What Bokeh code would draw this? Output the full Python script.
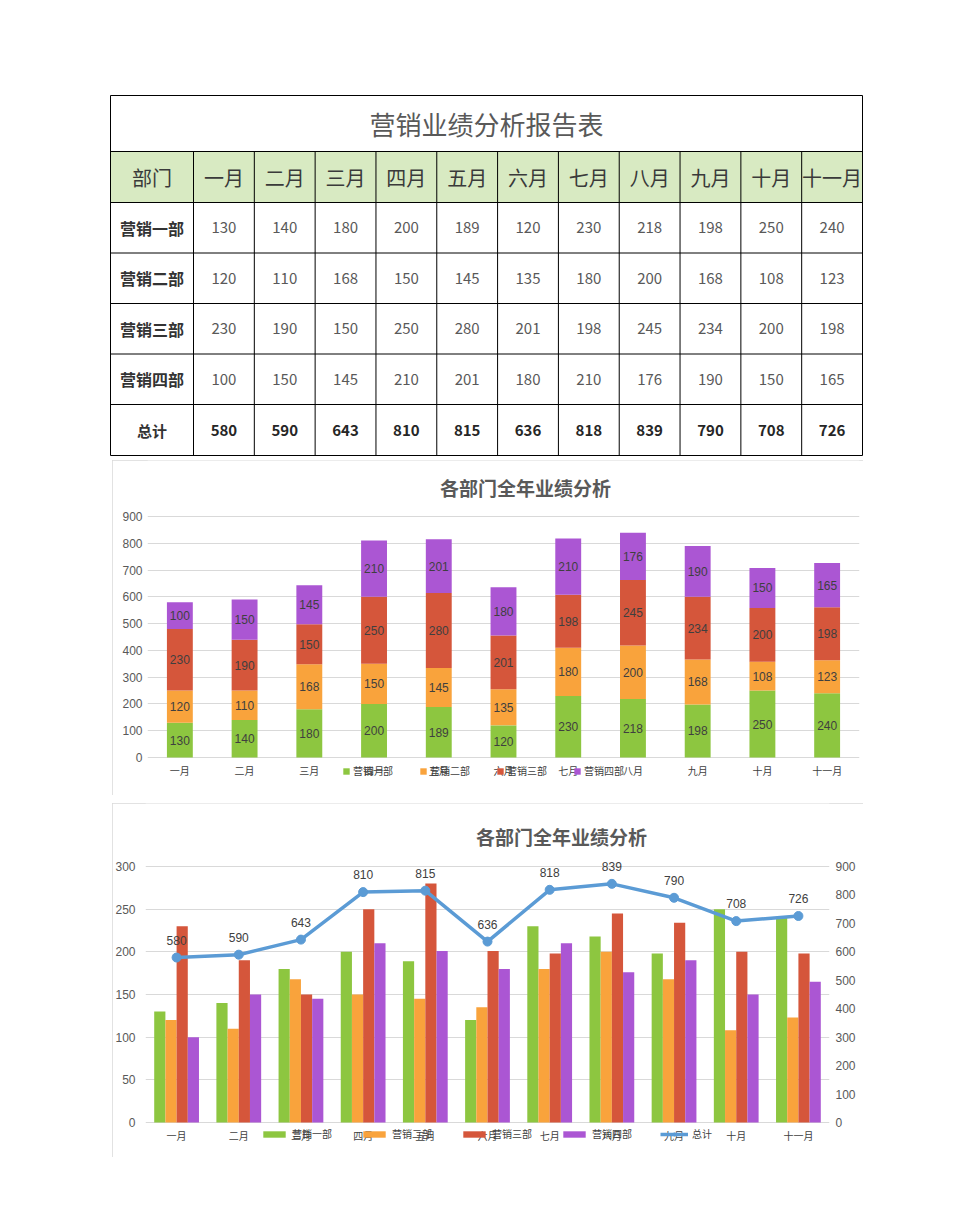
import numpy as np
from bokeh.plotting import figure
from bokeh.models import (ColumnDataSource, FactorRange, Range1d, LinearAxis,
                          Legend, LegendItem, FixedTicker, Label)
from bokeh.core.properties import value
from bokeh.embed import file_html
from bokeh.resources import INLINE
from bokeh.transform import dodge

# ---------------- data ----------------
table_title = "营销业绩分析报告表"
chart_title = "各部门全年业绩分析"
dept_header = "部门"
total_name = "总计"
months = ["一月", "二月", "三月", "四月", "五月", "六月", "七月", "八月", "九月", "十月", "十一月"]
depts = ["营销一部", "营销二部", "营销三部", "营销四部"]
sales_1 = [130, 140, 180, 200, 189, 120, 230, 218, 198, 250, 240]
sales_2 = [120, 110, 168, 150, 145, 135, 180, 200, 168, 108, 123]
sales_3 = [230, 190, 150, 250, 280, 201, 198, 245, 234, 200, 198]
sales_4 = [100, 150, 145, 210, 201, 180, 210, 176, 190, 150, 165]
totals = [580, 590, 643, 810, 815, 636, 818, 839, 790, 708, 726]
stack_ticks = [0, 100, 200, 300, 400, 500, 600, 700, 800, 900]
left_ticks = [0, 50, 100, 150, 200, 250, 300]
right_ticks = [0, 100, 200, 300, 400, 500, 600, 700, 800, 900]
stack_max = 900
left_max = 300
right_max = 900

series = [sales_1, sales_2, sales_3, sales_4]
colors = ["#8DC640", "#F9A33C", "#D5563B", "#AB56D3"]
line_color = "#5B9BD5"
CJK = "Noto Sans CJK SC"
LAT = "Liberation Sans"
GRID = "#D9D9D9"

# ---------------- table ----------------
TW = 752.0
col_w = [83.0] + [(TW - 83.0) / 11] * 11
col_x = np.concatenate([[0.0], np.cumsum(col_w)])
row_h = [56.0, 51.0, 50.5, 50.5, 50.5, 50.5, 51.0]
row_y = np.concatenate([[0.0], np.cumsum(row_h)])
TH = float(row_y[-1])
cx = (col_x[:-1] + col_x[1:]) / 2
cy = (row_y[:-1] + row_y[1:]) / 2

tbl = figure(frame_width=756, frame_height=364,
             x_range=Range1d(-2, TW + 2), y_range=Range1d(TH + 2, -2),
             min_border_left=0, min_border_right=0, min_border_top=0, min_border_bottom=0,
             x_axis_type=None, y_axis_type=None, toolbar_location=None,
             output_backend="svg", outline_line_color=None, margin=(93, 0, 0, 108))
tbl.grid.visible = False
tbl.quad(left=[0], right=[TW], top=[row_y[1]], bottom=[row_y[2]], fill_color="#D8EAC2", line_color=None)

hx0 = [0.0] * len(row_y)
hx1 = [TW] * len(row_y)
tbl.segment(x0=hx0, y0=list(row_y), x1=hx1, y1=list(row_y), line_color="black", line_width=1)
vx = list(col_x)
vy0 = [0.0] + [row_y[1]] * (len(col_x) - 2) + [0.0]
tbl.segment(x0=vx, y0=vy0, x1=vx, y1=[TH] * len(vx), line_color="black", line_width=1)

tbl.text(x=[TW / 2], y=[cy[0]], text=[table_title], text_align="center", text_baseline="middle",
         text_font=value(CJK), text_font_size="26px", text_color="#595959")
tbl.text(x=list(cx), y=[cy[1]] * len(cx), text=[dept_header] + months, text_align="center",
         text_baseline="middle", text_font=value(CJK), text_font_size="20px", text_color="#3A3A3A")
tbl.text(x=[cx[0]] * 4, y=list(cy[2:6]), text=depts, text_align="center", text_baseline="middle",
         text_font=value(CJK), text_font_size="16px", text_font_style="bold", text_color="#333333")
tbl.text(x=[cx[0]], y=[cy[6]], text=[total_name], text_align="center", text_baseline="middle",
         text_font=value(CJK), text_font_size="15px", text_font_style="bold", text_color="#333333")
for i, s in enumerate(series):
    tbl.text(x=list(cx[1:]), y=[cy[2 + i]] * len(s), text=[str(v) for v in s], text_align="center",
             text_baseline="middle", text_font=value(CJK), text_font_size="15px", text_color="#595959")
tbl.text(x=list(cx[1:]), y=[cy[6]] * len(totals), text=[str(v) for v in totals], text_align="center",
         text_baseline="middle", text_font=value(CJK), text_font_size="15px", text_font_style="bold",
         text_color="#262626")


def style_common(p, title_x, title_y):
    p.add_layout(Label(x=title_x, y=title_y, x_units="screen", y_units="screen", text=chart_title,
                       text_align="center", text_baseline="middle", text_font=CJK,
                       text_font_size="19px", text_font_style="bold", text_color="#595959"))
    p.outline_line_color = None
    p.xgrid.grid_line_color = None
    p.ygrid.grid_line_color = GRID
    p.xaxis.visible = False
    p.styles = {"outline": "1px solid #D9D9D9", "outline-offset": "-1px"}


def month_labels(p, **kw):
    p.text(x=months, y=[0] * len(months), text=months, y_offset=13, text_align="center",
           text_baseline="middle", text_font=value(CJK), text_font_size="10px",
           text_color="#404040", **kw)


def style_yaxis(ax, standoff):
    ax.axis_line_color = None
    ax.major_tick_line_color = None
    ax.minor_tick_line_color = None
    ax.major_tick_out = 0
    ax.major_tick_in = 0
    ax.minor_tick_out = 0
    ax.minor_tick_in = 0
    ax.major_label_text_font = LAT
    ax.major_label_text_font_size = "12px"
    ax.major_label_text_color = "#595959"
    ax.major_label_standoff = standoff


# ---------------- chart 1: stacked ----------------
# plot-area height, legend strip below zero, title strip above the top gridline (px)
PH1, EXTRA1, TOP1 = 241, 33, 56
FH1 = PH1 + EXTRA1 + TOP1
p1 = figure(frame_width=712, frame_height=FH1, x_range=FactorRange(*months),
            y_range=Range1d(-stack_max * EXTRA1 / PH1, stack_max + stack_max * TOP1 / PH1),
            min_border_left=35, min_border_right=4, min_border_top=0, min_border_bottom=5,
            toolbar_location=None, output_backend="svg", margin=(3, 0, 0, 112))
style_common(p1, 378, FH1 - 27)
p1.yaxis.ticker = FixedTicker(ticks=stack_ticks)
style_yaxis(p1.yaxis[0], 5)

keys = ["d1", "d2", "d3", "d4"]
src1 = ColumnDataSource(dict(m=months, d1=sales_1, d2=sales_2, d3=sales_3, d4=sales_4))
rs1 = p1.vbar_stack(keys, x="m", width=0.4, fill_color=colors, line_color=None, source=src1)
month_labels(p1)

arr = np.array(series, dtype=float)
mids = np.cumsum(arr, axis=0) - arr / 2
lab_m, lab_y, lab_t = [], [], []
for i in range(len(series)):
    lab_m += months
    lab_y += list(mids[i])
    lab_t += [str(v) for v in series[i]]
p1.text(x=lab_m, y=lab_y, text=lab_t, text_align="center", text_baseline="middle",
        text_font=value(LAT), text_font_size="12px", text_color="#3F3F3F")

leg1 = Legend(items=[LegendItem(label=depts[i], renderers=[rs1[i]]) for i in range(4)],
              orientation="horizontal", location=(195, 12), glyph_width=8, glyph_height=8,
              label_text_font=CJK, label_text_font_size="10px", label_text_color="#404040",
              label_height=10, label_standoff=3, spacing=26, padding=0, margin=0,
              border_line_color=None, background_fill_alpha=0)
p1.add_layout(leg1)

# ---------------- chart 2: grouped + line ----------------
PH2, EXTRA2, TOP2 = 256, 30, 63
FH2 = PH2 + EXTRA2 + TOP2
p2 = figure(frame_width=684, frame_height=FH2, x_range=FactorRange(*months),
            y_range=Range1d(-left_max * EXTRA2 / PH2, left_max + left_max * TOP2 / PH2),
            min_border_left=33, min_border_right=34, min_border_top=0, min_border_bottom=5,
            toolbar_location=None, output_backend="svg", margin=(8, 0, 0, 112))
style_common(p2, 416, FH2 - 33)
p2.yaxis.ticker = FixedTicker(ticks=left_ticks)
style_yaxis(p2.yaxis[0], 10)
p2.extra_y_ranges = {"right": Range1d(-right_max * EXTRA2 / PH2, right_max + right_max * TOP2 / PH2)}
rax = LinearAxis(y_range_name="right", ticker=FixedTicker(ticks=right_ticks))
style_yaxis(rax, 6)
p2.add_layout(rax, "right")

src2 = ColumnDataSource(dict(m=months, d1=sales_1, d2=sales_2, d3=sales_3, d4=sales_4, t=totals,
                             tl=[str(v) for v in totals]))
offsets = [-0.27, -0.09, 0.09, 0.27]
rs2 = []
for i, k in enumerate(keys):
    r = p2.vbar(x=dodge("m", offsets[i], range=p2.x_range), top=k, width=0.18, source=src2,
                fill_color=colors[i], line_color=None)
    rs2.append(r)
rl = p2.line(x="m", y="t", source=src2, y_range_name="right", line_color=line_color, line_width=3.5)
rm = p2.scatter(x="m", y="t", source=src2, y_range_name="right", size=9, fill_color=line_color,
                line_color=line_color)
p2.text(x="m", y="t", text="tl", source=src2, y_range_name="right", text_align="center",
        text_baseline="bottom", y_offset=-13, text_font=value(LAT), text_font_size="12px",
        text_color="#404040")
month_labels(p2)

items2 = [LegendItem(label=depts[i], renderers=[rs2[i]]) for i in range(4)]
items2.append(LegendItem(label=total_name, renderers=[rl, rm]))
leg2 = Legend(items=items2, orientation="horizontal", location=(115, 11), glyph_width=28,
              glyph_height=8, label_text_font=CJK, label_text_font_size="10px",
              label_text_color="#404040", label_height=10, label_standoff=4, spacing=28,
              padding=0, margin=0, border_line_color=None, background_fill_alpha=0)
p2.add_layout(leg2)

open("out.html", "w").write(file_html([tbl, p1, p2], INLINE))
